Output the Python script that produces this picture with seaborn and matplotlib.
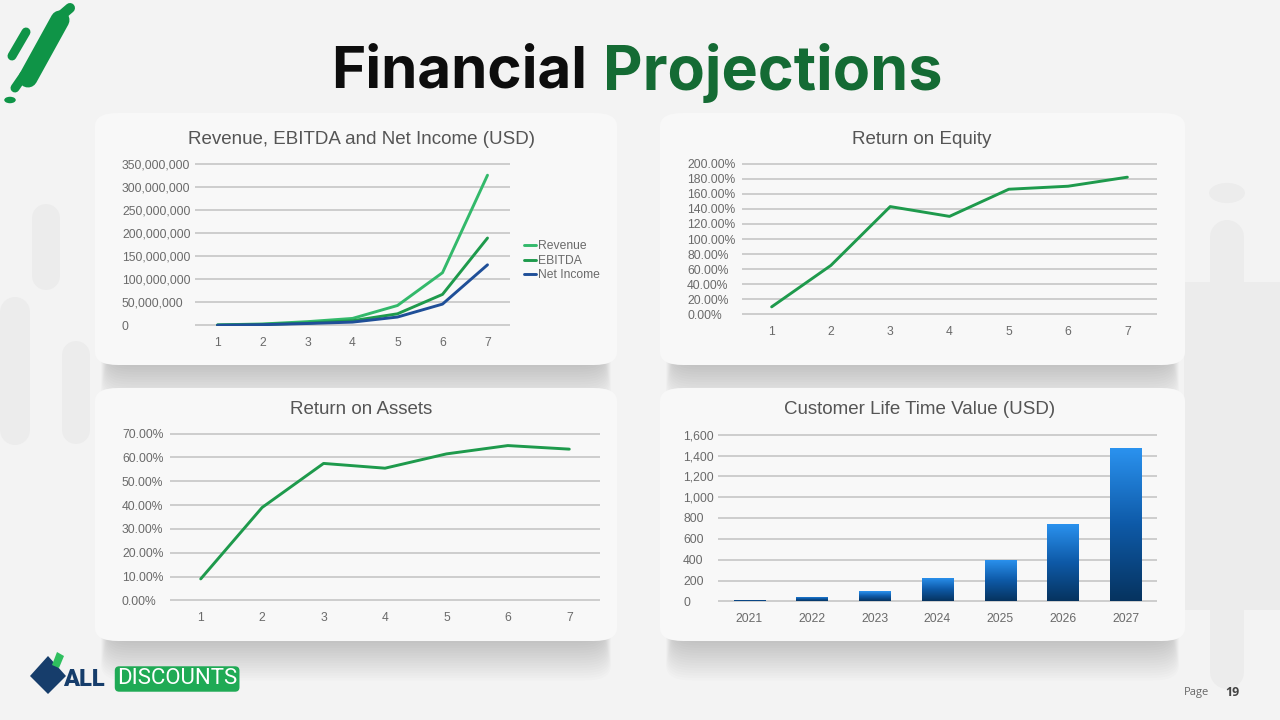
import numpy as np
import pandas as pd
import matplotlib.pyplot as plt
import seaborn as sns
from matplotlib.patches import FancyBboxPatch, Circle, Polygon
from matplotlib.ticker import FuncFormatter

# data
years = [1, 2, 3, 4, 5, 6, 7]
revenue = [1.0e6, 3.0e6, 8.0e6, 15.0e6, 43.0e6, 114.0e6, 325.0e6]
ebitda = [0.5e6, 2.0e6, 5.0e6, 10.0e6, 25.0e6, 67.0e6, 189.0e6]
net_income = [0.3e6, 1.5e6, 4.0e6, 7.0e6, 18.0e6, 46.0e6, 131.0e6]
roe = [0.10, 0.65, 1.43, 1.30, 1.66, 1.70, 1.82]
roa = [0.09, 0.39, 0.575, 0.555, 0.615, 0.65, 0.635]
clv_years = ["2021", "2022", "2023", "2024", "2025", "2026", "2027"]
clv = [15, 45, 95, 225, 400, 745, 1475]

W, H = 1280, 720
BG = "#f3f3f3"
CARD = "#f8f8f8"
GRID = "#c2c2c2"
TICK = "#6a6a6a"
TITLE = "#555555"
LIGHT_GREEN = "#33b96b"
DARK_GREEN = "#1e9a4c"
BLUE = "#1f4f98"
BRAND = "#146b34"

sns.set_theme(style="white")
plt.rcParams["font.family"] = ["Liberation Sans", "DejaVu Sans"]


def fx(x):
    return x / W


def fy(y):
    return 1 - y / H


def add_axes(fig, x0, y0, x1, y1):
    ax = fig.add_axes([fx(x0), fy(y1), fx(x1 - x0), (y1 - y0) / H])
    ax.set_zorder(10)
    return ax


def style_ax(ax, ymax, pad_px):
    ax.set_facecolor("none")
    for s in ax.spines.values():
        s.set_visible(False)
    # tiny margin so the top and bottom grid lines are not clipped
    ax.set_ylim(-ymax * 0.004, ymax * 1.004)
    ax.grid(axis="y", color=GRID, linewidth=1.1)
    ax.grid(axis="x", visible=False)
    ax.set_axisbelow(True)
    ax.tick_params(axis="both", length=0, colors=TICK, labelsize=8.7)
    ax.tick_params(axis="x", pad=8)
    ax.tick_params(axis="y", pad=pad_px * 0.72)
    for lab in ax.get_yticklabels():
        lab.set_horizontalalignment("left")
    ax.set_xlabel("")
    ax.set_ylabel("")


def stroke(fig, p0, p1, width_px, color, z=0, cap="round"):
    fig.add_artist(plt.Line2D([fx(p0[0]), fx(p1[0])], [fy(p0[1]), fy(p1[1])],
                              transform=fig.transFigure, color=color,
                              linewidth=width_px * 0.72, solid_capstyle=cap,
                              zorder=z))


fig = plt.figure(figsize=(12.8, 7.2), dpi=100)
fig.patch.set_facecolor(BG)

# faint background pills
pale = "#ececec"
stroke(fig, (46, 218), (46, 276), 28, pale)
stroke(fig, (15, 312), (15, 430), 30, pale)
stroke(fig, (76, 355), (76, 430), 28, pale)
stroke(fig, (1227, 237), (1227, 290), 34, pale)
stroke(fig, (1232, 282), (1232, 610), 96, pale, cap="butt")
stroke(fig, (1227, 575), (1227, 672), 34, pale)
fig.add_artist(Circle((fx(1227), fy(193)), 0.014, transform=fig.transFigure,
                      facecolor=pale, edgecolor="none", zorder=0))

# cards with soft shadows
cards = [(95, 113, 617, 365), (660, 113, 1185, 365),
         (95, 388, 617, 641), (660, 388, 1185, 641)]
for (x0, y0, x1, y1) in cards:
    for k in range(16):
        grow = 2 + k * 2.5
        fig.patches.append(FancyBboxPatch((fx(x0 + 14 - grow * 0.2), fy(y1 + grow)),
                                          fx(x1 - x0 - 28 + grow * 0.4), (y1 - y0) / H,
                                          boxstyle="round,pad=0,rounding_size=0.02",
                                          transform=fig.transFigure, facecolor="#000000",
                                          alpha=0.011, edgecolor="none", zorder=1))
    fig.patches.append(FancyBboxPatch((fx(x0), fy(y1)), fx(x1 - x0), (y1 - y0) / H,
                                      boxstyle="round,pad=0,rounding_size=0.018",
                                      transform=fig.transFigure, facecolor=CARD,
                                      edgecolor="none", zorder=2))

# headline
fig.text(fx(587), fy(73), "Financial", ha="right", va="center", fontsize=42,
         fontweight="bold", color="#0d0d0d", family=["Inter", "DejaVu Sans"])
fig.text(fx(603), fy(73), "Projections", ha="left", va="center", fontsize=44,
         fontweight="bold", color=BRAND, family=["Inter", "DejaVu Sans"])

# chart 1: revenue, ebitda, net income
ax1 = add_axes(fig, 195, 163, 510, 326)
df1 = pd.DataFrame({"year": years * 3,
                    "value": revenue + ebitda + net_income,
                    "series": ["Revenue"] * 7 + ["EBITDA"] * 7 + ["Net Income"] * 7})
sns.lineplot(data=df1, x="year", y="value", hue="series",
             palette=[LIGHT_GREEN, DARK_GREEN, BLUE], linewidth=2.1, ax=ax1)
ax1.set_xlim(0.5, 7.5)
ax1.set_xticks(years)
ax1.set_yticks(np.arange(0, 350e6 + 1, 50e6))
ax1.yaxis.set_major_formatter(FuncFormatter(lambda v, p: f"{v:,.0f}"))
style_ax(ax1, 350e6, 73)
leg = ax1.legend(loc="center left", bbox_to_anchor=(1.01, 0.4), frameon=False,
                 fontsize=8.7, handlelength=1.0, handletextpad=0.15, labelspacing=0.2)
for t in leg.get_texts():
    t.set_color(TICK)
fig.text(fx(362), fy(140), "Revenue, EBITDA and Net Income (USD)", ha="center",
         va="center", fontsize=13.5, color=TITLE)

# chart 2: return on equity
ax2 = add_axes(fig, 742, 163, 1157, 315)
sns.lineplot(x=years, y=roe, color=DARK_GREEN, linewidth=2.1, ax=ax2)
ax2.set_xlim(0.5, 7.5)
ax2.set_xticks(years)
ax2.set_yticks(np.arange(0, 2.01, 0.2))
ax2.yaxis.set_major_formatter(FuncFormatter(lambda v, p: f"{v * 100:.2f}%"))
style_ax(ax2, 2.0, 55)
fig.text(fx(922), fy(139), "Return on Equity", ha="center", va="center",
         fontsize=13.5, color=TITLE)

# chart 3: return on assets
ax3 = add_axes(fig, 170, 433, 600, 601)
sns.lineplot(x=years, y=roa, color=DARK_GREEN, linewidth=2.1, ax=ax3)
ax3.set_xlim(0.5, 7.5)
ax3.set_xticks(years)
ax3.set_yticks(np.arange(0, 0.701, 0.1))
ax3.yaxis.set_major_formatter(FuncFormatter(lambda v, p: f"{v * 100:.2f}%"))
style_ax(ax3, 0.7, 48)
fig.text(fx(361), fy(410), "Return on Assets", ha="center", va="center",
         fontsize=13.5, color=TITLE)

# chart 4: customer lifetime value (gradient bars)
ax4 = add_axes(fig, 718, 434, 1157, 602)
sns.barplot(x=clv_years, y=clv, color="#1565c0", width=0.5, ax=ax4)
ax4.set_xlim(-0.5, 6.5)
ax4.set_yticks(np.arange(0, 1601, 200))
ax4.yaxis.set_major_formatter(FuncFormatter(lambda v, p: f"{v:,.0f}"))
style_ax(ax4, 1600, 35)
grad = np.linspace(0, 1, 256).reshape(-1, 1)
cmap = sns.blend_palette(["#06335f", "#0e5aa8", "#2b93f0"], as_cmap=True)
for bar in ax4.patches:
    bx, by = bar.get_x(), bar.get_y()
    bw, bh = bar.get_width(), bar.get_height()
    bar.set_facecolor("none")
    bar.set_edgecolor("none")
    img = ax4.imshow(grad, cmap=cmap, origin="lower", aspect="auto",
                     extent=[bx, bx + bw, by, by + bh], zorder=3)
    img.set_clip_path(bar)
ax4.set_xlim(-0.5, 6.5)
ax4.set_ylim(-1600 * 0.004, 1600 * 1.004)
fig.text(fx(920), fy(410), "Customer Life Time Value (USD)", ha="center",
         va="center", fontsize=13.5, color=TITLE)

# brand mark top-left
mark = "#0f9447"
stroke(fig, (12, 56), (26, 32), 9, mark, 3)
stroke(fig, (28, 78), (60, 20), 19, mark, 3)
stroke(fig, (56, 20), (70, 8), 10, mark, 3)
stroke(fig, (15, 88), (24, 75), 9, mark, 3)
fig.add_artist(Circle((fx(10), fy(100)), 0.0045, transform=fig.transFigure,
                      facecolor=mark, edgecolor="none", zorder=3))

# footer logo
fig.add_artist(Polygon([(fx(30), fy(676)), (fx(48), fy(656)), (fx(66), fy(676)), (fx(48), fy(694))],
                       closed=True, transform=fig.transFigure, facecolor="#163d6b",
                       edgecolor="none", zorder=3))
fig.add_artist(Polygon([(fx(52), fy(665)), (fx(57), fy(652)), (fx(64), fy(656)), (fx(59), fy(668))],
                       closed=True, transform=fig.transFigure, facecolor="#2fbf5f",
                       edgecolor="none", zorder=3))
fig.text(fx(63), fy(680), "ALL", ha="left", va="center", fontsize=17,
         fontweight="heavy", color="#163d6b", family=["Roboto", "DejaVu Sans"])
fig.text(fx(117), fy(679), "DISCOUNTS", ha="left", va="center", fontsize=16,
         color="white", family=["Roboto", "DejaVu Sans"],
         bbox=dict(boxstyle="round,pad=0.1,rounding_size=0.2", facecolor="#1faa55",
                   edgecolor="none"))

fig.text(fx(1209), fy(693), "Page", ha="right", va="center", fontsize=8,
         color="#666666", family=["Open Sans", "DejaVu Sans"])
fig.text(fx(1225), fy(693), "19", ha="left", va="center", fontsize=9,
         fontweight="bold", color="#444444", family=["Open Sans", "DejaVu Sans"])

fig.savefig("out.png", dpi=100, facecolor=fig.get_facecolor())
